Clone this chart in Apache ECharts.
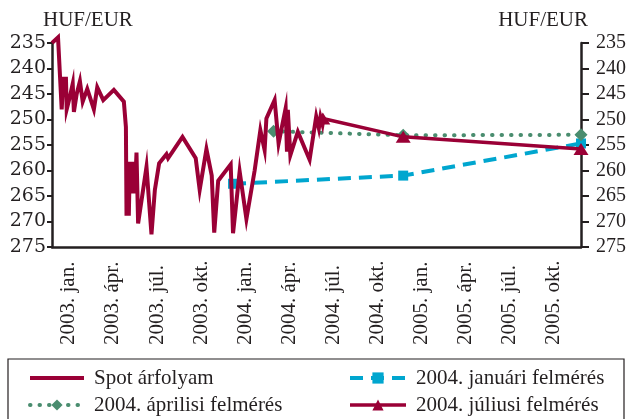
<!DOCTYPE html>
<html>
<head>
<meta charset="utf-8">
<script src="https://cdn.jsdelivr.net/npm/echarts@6/dist/echarts.min.js"></script>
<style>
  html, body { margin: 0; padding: 0; background: #fff; }
  #chart { width: 629px; height: 419px; }
</style>
</head>
<body>
<div id="chart"></div>
<script>
// x = months counted from 2003 Jan 1 (0 = start of 2003, 36 = end of 2005)
const tickLabels = [
  '2003. jan.', '2003. ápr.', '2003. júl.', '2003. okt.',
  '2004. jan.', '2004. ápr.', '2004. júl.', '2004. okt.',
  '2005. jan.', '2005. ápr.', '2005. júl.', '2005. okt.',
];

const spotMonths = [
  0, 0.41, 0.66, 0.77, 0.95, 1.0, 1.22, 1.41, 1.49, 1.68, 1.9, 2.09, 2.4,
  2.85, 3.08, 3.49, 4.21, 4.89, 5.03, 5.07, 5.23, 5.3, 5.41, 5.52, 5.64,
  5.75, 5.86, 6.43, 6.77, 7.0, 7.29, 7.79, 7.9, 8.88, 9.78, 10.05, 10.51,
  10.87, 11.04, 11.31, 12.16, 12.32, 12.77, 13.23, 13.79, 14.18, 14.47,
  14.59, 15.15, 15.42, 15.9, 15.99, 16.05, 16.22, 16.73, 17.53, 17.98,
  18.16, 18.27, 18.41, 18.48,
];
const spotValues = [
  235, 233.9, 248, 242, 242, 248, 245.5, 243, 248.5, 245, 242.5, 246.5, 244,
  248, 243.7, 246.2, 244.2, 246.5, 251.5, 268.5, 268.5, 258.3, 264.5, 258.3, 264.5,
  256.5, 270.4, 259.3, 272.5, 263.8, 258.6, 256.8, 257.6, 253.4, 257.6, 263.8, 255.8,
  261, 272.2, 262, 258.8, 272.3, 260.2, 269.5, 260, 252.1, 256,
  249.8, 246.2, 254.7, 247.8, 256.3, 248.1, 257, 252.4, 257.9, 249.4,
  251.7, 249.5, 251, 249.8,
];

const janSurveyMonths = [12.32, 23.9, 36];
const janSurveyValues = [262.6, 261.0, 254.7];
const aprSurveyMonths = [15.08, 23.9, 36];
const aprSurveyValues = [252.3, 253.1, 253.0];
const julSurveyMonths = [18.43, 23.9, 36];
const julSurveyValues = [249.8, 253.4, 255.8];

const seriesNames = [
  'Spot árfolyam',
  '2004. januári felmérés',
  '2004. áprilisi felmérés',
  '2004. júliusi felmérés',
];

const RED = '#9a0036';
const BLUE = '#00a6cf';
const GREEN = '#4a8d6f';
const INK = '#231f20';
const SERIF = '"Liberation Serif", "Times New Roman", serif';
const LABEL_SHIFT = 1.15; // labels sit a bit right of the quarter start

const zip = (xs, ys) => xs.map((x, i) => [x, ys[i]]);

const chart = echarts.init(document.getElementById('chart'));

const yAxisBase = {
  type: 'value',
  inverse: true,
  min: 235,
  max: 275,
  interval: 5,
  splitLine: { show: false },
  axisLine: { show: true, onZero: false, lineStyle: { color: INK, width: 2.5 } },
  axisTick: { show: true, lineStyle: { color: INK, width: 2 } },
};

const legendBase = {
  orient: 'vertical',
  padding: 0,
  itemGap: 5,
  itemHeight: 14,
  selectedMode: false,
  lineStyle: { width: 'inherit' },
  textStyle: {
    fontFamily: SERIF,
    fontSize: 21,
    color: INK,
    lineHeight: 22,
    padding: [0, 0, 0, 5],
  },
};

const option = {
  animation: false,
  title: [
    {
      text: 'HUF/EUR',
      left: 43,
      top: 10,
      padding: 0,
      textStyle: { fontFamily: SERIF, fontSize: 21, fontWeight: 'normal', color: INK },
    },
    {
      text: 'HUF/EUR',
      right: 41,
      top: 10,
      padding: 0,
      textStyle: { fontFamily: SERIF, fontSize: 21, fontWeight: 'normal', color: INK },
    },
  ],
  legend: [
    {
      ...legendBase,
      left: 28,
      top: 367,
      itemWidth: 54,
      data: [
        // spot line has no marker: hide the legend symbol only
        { name: seriesNames[0], itemStyle: { opacity: 0 } },
        seriesNames[2],
      ],
    },
    {
      ...legendBase,
      left: 348,
      top: 367,
      itemWidth: 56,
      data: [seriesNames[1], seriesNames[3]],
    },
  ],
  graphic: [
    {
      type: 'rect',
      shape: { x: 8, y: 359, width: 616, height: 80 },
      style: { fill: 'none', stroke: INK, lineWidth: 1.2 },
      silent: true,
    },
  ],
  grid: { left: 52, right: 47, top: 43, bottom: 172 },
  xAxis: {
    type: 'value',
    min: 0,
    max: 36,
    splitLine: { show: false },
    axisTick: { show: false },
    axisLine: { onZero: false, lineStyle: { color: INK, width: 2.5 } },
    axisLabel: {
      customValues: tickLabels.map((_, i) => i * 3 + LABEL_SHIFT),
      rotate: 90,
      margin: 10,
      formatter: (v) => '{a|' + tickLabels[Math.round((v - LABEL_SHIFT) / 3)] + '}',
      rich: {
        a: { width: 88, align: 'left', fontFamily: SERIF, fontSize: 21, color: INK },
      },
    },
  },
  yAxis: [
    {
      ...yAxisBase,
      position: 'left',
      axisTick: { ...yAxisBase.axisTick, length: 5 },
      axisLabel: { margin: 6, fontFamily: '"DejaVu Serif", serif', fontSize: 19, color: INK },
    },
    {
      ...yAxisBase,
      position: 'right',
      axisTick: { ...yAxisBase.axisTick, length: 8 },
      axisLabel: { margin: 15, fontFamily: SERIF, fontSize: 20, color: INK },
    },
  ],
  series: [
    {
      name: seriesNames[1],
      type: 'line',
      data: zip(janSurveyMonths, janSurveyValues),
      symbol: 'rect',
      symbolSize: 10,
      itemStyle: { color: BLUE },
      lineStyle: { color: BLUE, width: 4, type: [13, 8] },
      z: 2,
    },
    {
      name: seriesNames[2],
      type: 'line',
      data: zip(aprSurveyMonths, aprSurveyValues),
      symbol: 'diamond',
      symbolSize: [13, 13],
      itemStyle: { color: GREEN },
      lineStyle: { color: GREEN, width: 4, type: [0.5, 9], cap: 'round' },
      z: 3,
    },
    {
      name: seriesNames[3],
      type: 'line',
      data: zip(julSurveyMonths, julSurveyValues),
      symbol: 'triangle',
      symbolSize: [15, 12],
      itemStyle: { color: RED },
      lineStyle: { color: RED, width: 3.5 },
      z: 4,
    },
    {
      name: seriesNames[0],
      type: 'line',
      data: zip(spotMonths, spotValues),
      symbol: 'none',
      clip: false,
      itemStyle: { color: RED },
      lineStyle: { color: RED, width: 4, join: 'miter' },
      z: 5,
    },
  ],
};

chart.setOption(option);
</script>
</body>
</html>
